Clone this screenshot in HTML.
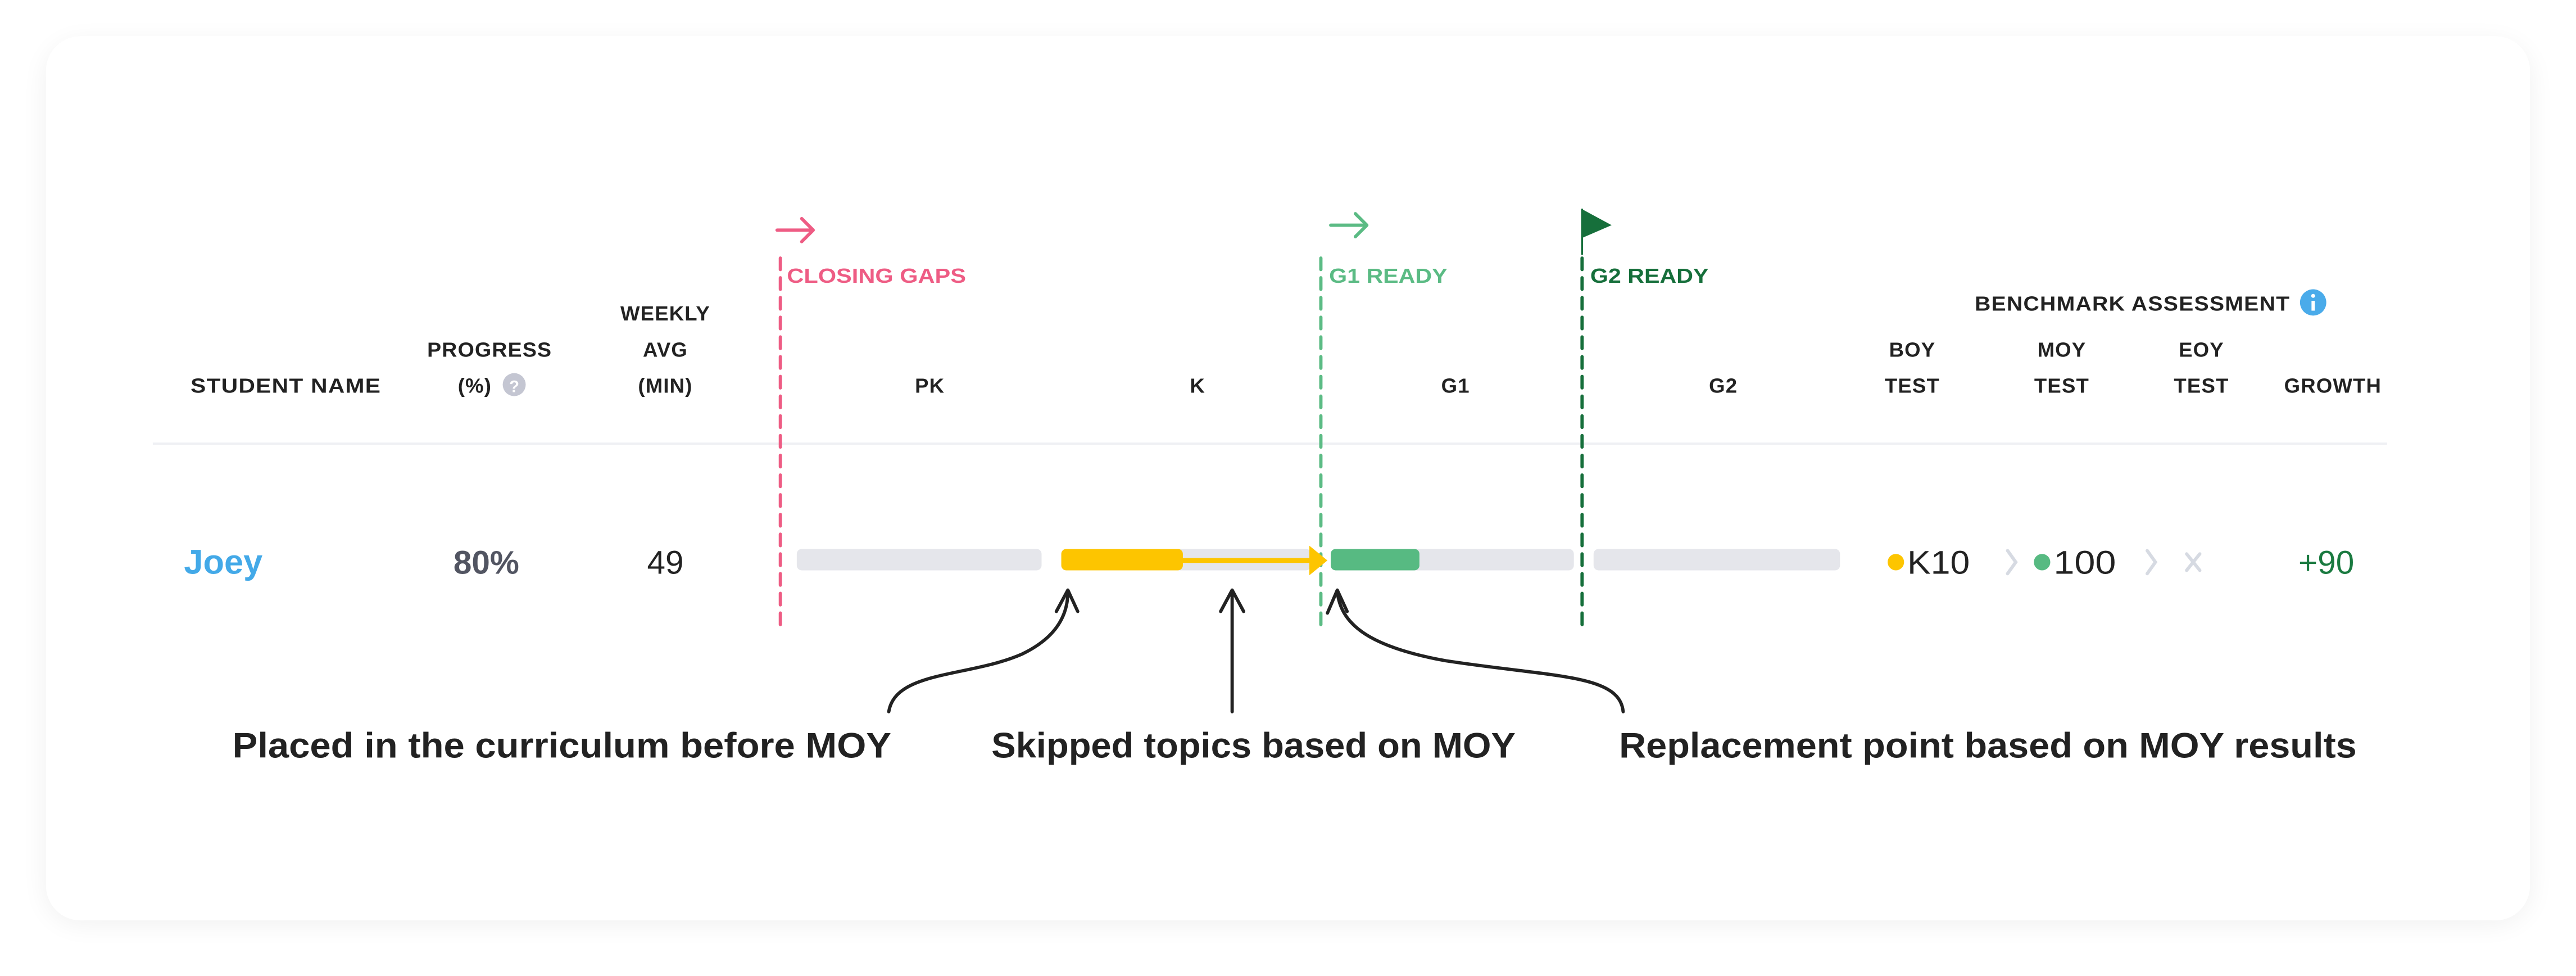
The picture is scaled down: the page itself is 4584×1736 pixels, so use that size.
<!DOCTYPE html>
<html><head><meta charset="utf-8"><style>
html,body{margin:0;padding:0;background:#fff;width:4584px;height:1736px;overflow:hidden}
svg{display:block}
text{font-family:"Liberation Sans",sans-serif}
.h{font-size:12.5px;font-weight:bold;fill:#222;letter-spacing:0.4px}
</style></head><body>
<svg width="4584" height="1736" viewBox="0 0 1568 593.8" xmlns="http://www.w3.org/2000/svg">
<defs>
<filter id="sh" x="-5%" y="-10%" width="110%" height="120%"><feGaussianBlur stdDeviation="8"/></filter>
</defs>
<rect x="0" y="0" width="1568" height="594" fill="#fff"/>
<rect x="28" y="26" width="1512" height="536" rx="22" fill="#000" opacity="0.06" filter="url(#sh)"/>
<rect x="28" y="22" width="1512" height="538" rx="21" fill="#fff"/>

<!-- header -->
<text class="h" x="174" y="239" text-anchor="middle" textLength="116" lengthAdjust="spacingAndGlyphs">STUDENT NAME</text>
<text class="h" x="298" y="217" text-anchor="middle" textLength="76" lengthAdjust="spacingAndGlyphs">PROGRESS</text>
<text class="h" x="289" y="239" text-anchor="middle">(%)</text>
<circle cx="313" cy="234" r="7" fill="#c4c6d2"/>
<text x="313" y="238.5" text-anchor="middle" font-size="10" font-weight="bold" fill="#fff">?</text>
<text class="h" x="405" y="195" text-anchor="middle">WEEKLY</text>
<text class="h" x="405" y="217" text-anchor="middle">AVG</text>
<text class="h" x="405" y="239" text-anchor="middle">(MIN)</text>
<text class="h" x="566" y="239" text-anchor="middle">PK</text>
<text class="h" x="729" y="239" text-anchor="middle">K</text>
<text class="h" x="886" y="239" text-anchor="middle">G1</text>
<text class="h" x="1049" y="239" text-anchor="middle">G2</text>
<text class="h" x="1298" y="189" text-anchor="middle" textLength="192" lengthAdjust="spacingAndGlyphs">BENCHMARK ASSESSMENT</text>
<circle cx="1408" cy="184" r="8" fill="#4aabea"/>
<rect x="1407" y="183" width="2" height="6" fill="#fff"/><circle cx="1408" cy="180" r="1.2" fill="#fff"/>
<text class="h" x="1164" y="217" text-anchor="middle">BOY</text>
<text class="h" x="1164" y="239" text-anchor="middle">TEST</text>
<text class="h" x="1255" y="217" text-anchor="middle">MOY</text>
<text class="h" x="1255" y="239" text-anchor="middle">TEST</text>
<text class="h" x="1340" y="217" text-anchor="middle">EOY</text>
<text class="h" x="1340" y="239" text-anchor="middle">TEST</text>
<text class="h" x="1420" y="239" text-anchor="middle">GROWTH</text>

<line x1="93" y1="270" x2="1453" y2="270" stroke="#eff0f4" stroke-width="1.5"/>

<!-- markers -->
<line x1="475" y1="157" x2="475" y2="382" stroke="#ee5c84" stroke-width="2" stroke-dasharray="7,5" stroke-linecap="round"/>
<text x="479" y="172" font-size="12.5" font-weight="bold" fill="#ee5c84" textLength="109" lengthAdjust="spacingAndGlyphs">CLOSING GAPS</text>
<path d="M473 140 H495 M488 133 L495 140 L488 147" stroke="#ee5c84" stroke-width="2" fill="none" stroke-linecap="round" stroke-linejoin="round"/>

<line x1="804" y1="157" x2="804" y2="382" stroke="#5bbb84" stroke-width="2" stroke-dasharray="7,5" stroke-linecap="round"/>
<text x="809" y="172" font-size="12.5" font-weight="bold" fill="#5bbb84" textLength="72" lengthAdjust="spacingAndGlyphs">G1 READY</text>
<path d="M810 137 H832 M825 130 L832 137 L825 144" stroke="#5bbb84" stroke-width="2" fill="none" stroke-linecap="round" stroke-linejoin="round"/>

<line x1="963" y1="157" x2="963" y2="382" stroke="#166f3b" stroke-width="2" stroke-dasharray="7,5" stroke-linecap="round"/>
<text x="968" y="172" font-size="12.5" font-weight="bold" fill="#166f3b" textLength="72" lengthAdjust="spacingAndGlyphs">G2 READY</text>
<line x1="963" y1="127" x2="963" y2="155" stroke="#166f3b" stroke-width="1.2"/>
<path d="M962.5 127 L981 137 L962.5 145 Z" fill="#166f3b"/>

<!-- bars -->
<rect x="485" y="334" width="149" height="13" rx="3" fill="#e5e6eb"/>
<rect x="646" y="334" width="152" height="13" rx="3" fill="#e5e6eb"/>
<rect x="646" y="334" width="74" height="13" rx="3" fill="#fdc500"/>
<line x1="718" y1="341" x2="800" y2="341" stroke="#fdc500" stroke-width="3"/>
<path d="M797 332 L808 341 L797 350 Z" fill="#fdc500"/>
<rect x="810" y="334" width="148" height="13" rx="3" fill="#e5e6eb"/>
<rect x="810" y="334" width="54" height="13" rx="3" fill="#57ba82"/>
<rect x="970" y="334" width="150" height="13" rx="3" fill="#e5e6eb"/>

<!-- row -->
<text x="112" y="349" font-size="21" font-weight="bold" fill="#43a9e8">Joey</text>
<text x="296" y="349" text-anchor="middle" font-size="20" font-weight="bold" fill="#525562">80%</text>
<text x="405" y="349" text-anchor="middle" font-size="20" fill="#222">49</text>
<circle cx="1154" cy="342" r="5" fill="#fdc500"/>
<text x="1161" y="349" font-size="20" fill="#222" textLength="38" lengthAdjust="spacingAndGlyphs">K10</text>
<path d="M1222 335 L1227 342 L1222 349" stroke="#d6dae2" stroke-width="2" fill="none" stroke-linecap="round"/>
<circle cx="1243" cy="342" r="5" fill="#57ba82"/>
<text x="1250" y="349" font-size="20" fill="#222" textLength="38" lengthAdjust="spacingAndGlyphs">100</text>
<path d="M1307 335 L1312 342 L1307 349" stroke="#d6dae2" stroke-width="2" fill="none" stroke-linecap="round"/>
<path d="M1331 337 L1339 347 M1339 337 L1331 347" stroke="#d6dae2" stroke-width="2" stroke-linecap="round"/>
<text x="1416" y="349" text-anchor="middle" font-size="20" fill="#1a7a40">+90</text>

<!-- annotation arrows -->
<g stroke="#222" stroke-width="2" fill="none" stroke-linecap="round" stroke-linejoin="round">
<path d="M541 433 C545 408 590 412 622 398 C645 387 650 372 650 360"/>
<path d="M643 372 L650 359 L656 372"/>
<path d="M750 433 V360"/>
<path d="M743 372 L750 359 L757 372"/>
<path d="M988 433 C986 410 945 412 880 402 C830 393 816 378 814 360"/>
<path d="M808 373 L814 359 L820 372"/>
</g>
<text x="342" y="461" text-anchor="middle" font-size="21.5" font-weight="bold" fill="#222" textLength="401" lengthAdjust="spacingAndGlyphs">Placed in the curriculum before MOY</text>
<text x="763" y="461" text-anchor="middle" font-size="21.5" font-weight="bold" fill="#222" textLength="319" lengthAdjust="spacingAndGlyphs">Skipped topics based on MOY</text>
<text x="1210" y="461" text-anchor="middle" font-size="21.5" font-weight="bold" fill="#222" textLength="449" lengthAdjust="spacingAndGlyphs">Replacement point based on MOY results</text>
</svg>
</body></html>
